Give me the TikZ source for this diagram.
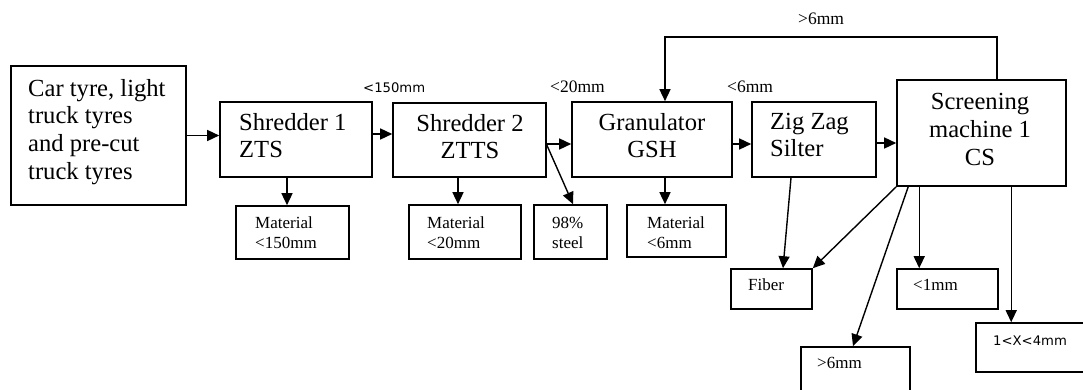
\documentclass[tikz,border=0pt]{standalone}
\usepackage{fontspec}
\setmainfont{Liberation Serif}
\newfontfamily\dvsans{DejaVu Sans}
\usetikzlibrary{arrows.meta}
\tikzset{
  x=1pt, y=-1pt,
  box/.style={draw, line width=1.6pt, inner sep=0pt},
  arr/.style={line width=1.4pt, -{Triangle[length=12pt,width=11pt]}},
  big/.style={font=\fontsize{24.6}{27.5}\selectfont, inner sep=0pt},
  small/.style={font=\fontsize{17}{20}\selectfont, inner sep=0pt, align=left, anchor=base west},
  lbl/.style={font=\fontsize{17.5}{20}\selectfont, inner sep=0pt, anchor=base west},
  slbl/.style={font=\dvsans\fontsize{13.2}{16}\selectfont, inner sep=0pt, anchor=base west},
}
\begin{document}
\begin{tikzpicture}
\useasboundingbox (0,0) rectangle (1083,390);
\clip (0,0) rectangle (1083,390);

% process boxes
\node[box, minimum width=175pt, minimum height=139pt] (in) at (98.5,135.5) {};
\node[box, minimum width=152pt, minimum height=75pt] (s1) at (296,139.5) {};
\node[box, minimum width=153pt, minimum height=74pt] (s2) at (469.5,140) {};
\node[box, minimum width=160pt, minimum height=75pt] (gr) at (652,139.5) {};
\node[box, minimum width=124pt, minimum height=75pt] (zz) at (814,139.5) {};
\node[box, minimum width=169pt, minimum height=106pt] (sc) at (981.5,133) {};

% output boxes
\node[box, minimum width=113pt, minimum height=53pt] (m150) at (292.5,232.5) {};
\node[box, minimum width=112pt, minimum height=54pt] (m20) at (465,232) {};
\node[box, minimum width=73pt, minimum height=54pt] (st) at (570.5,232) {};
\node[box, minimum width=99pt, minimum height=52pt] (m6) at (676.5,231) {};
\node[box, minimum width=81pt, minimum height=40pt] (fib) at (771.5,289) {};
\node[box, minimum width=101pt, minimum height=40pt] (l1) at (947.5,289) {};
\node[box, minimum width=109pt, minimum height=53pt] (g6) at (855.5,373.5) {};
\node[box, minimum width=119pt, minimum height=49pt] (x14) at (1035.5,347.5) {};

% box texts (multi-line nodes sit on the baseline of their last line)
\node[big, anchor=base west, align=left] (tin) at (28,179)
  {Car tyre, light\\truck tyres\\and pre-cut\\truck tyres};
\node[big, anchor=base west, align=left] (ts1) at (239,158) {Shredder 1\\ZTS};
\node[big, anchor=base, align=center] (ts2) at (470,159) {Shredder 2\\ZTTS};
\node[big, anchor=base, align=center] (tgr) at (652,158) {Granulator\\GSH};
\node[big, anchor=base west, align=left] (tzz) at (770,157) {Zig Zag\\Silter};
\node[big, anchor=base, align=center] (tsc) at (980,165) {Screening\\machine 1\\CS};

\node[small] (tm150) at (255,248) {Material\\<150mm};
\node[small] (tm20) at (427,248) {Material\\<20mm};
\node[small] (tst) at (552,248) {98\%\\steel};
\node[small] (tm6) at (647,248) {Material\\<6mm};
\node[small] (tfib) at (748,290) {Fiber};
\node[small] (tl1) at (913,290) {<1mm};
\node[small] (tg6) at (817,368) {>6mm};
\node[slbl] (tx14) at (993,345) {1<X<4mm};

% size labels above the line
\node[slbl] (l150) at (363,93) {<150mm};
\node[lbl] (l20) at (550,93) {<20mm};
\node[lbl] (l6) at (727,93) {<6mm};
\node[lbl] (lfb) at (798,25) {>6mm};

% main flow
\draw[arr] (in.east) -- (in.east -| s1.west);
\coordinate (a1) at ([yshift=5.5pt]s1.east);
\draw[arr] (a1) -- (a1 -| s2.west);
\coordinate (a2) at ([yshift=-4pt]s2.east);
\draw[arr] (a2) -- (a2 -| gr.west);
\coordinate (a3) at ([yshift=-4.5pt]gr.east);
\draw[arr] (a3) -- (a3 -| zz.west);
\coordinate (a4) at ([yshift=-3.5pt]zz.east);
\draw[arr] (a4) -- (a4 -| sc.west);

% discharges
\coordinate (d1) at ([xshift=-9pt]s1.south);
\draw[arr] (d1) -- (d1 |- m150.north);
\coordinate (d2) at ([xshift=-11.5pt]s2.south);
\draw[arr] (d2) -- (d2 |- m20.north);
\draw[arr] ([yshift=-5pt]s2.east) -- ([xshift=2.5pt]st.north);
\coordinate (d3) at ([xshift=13pt]gr.south);
\draw[arr] (d3) -- (d3 |- m6.north);
\draw[arr] ([xshift=-23pt]zz.south) -- ([xshift=11.5pt]fib.north);
\draw[arr] (sc.south west) -- (fib.north east);
\draw[arr] ([xshift=12pt]sc.south west) -- ([xshift=-2.5pt]g6.north);
\coordinate (d4) at ([xshift=23pt]sc.south west);
\draw[arr] (d4) -- (d4 |- l1.north);
\coordinate (d5) at ([xshift=115pt]sc.south west);
\draw[arr] (d5) -- (d5 |- x14.north);

% oversize return to the granulator
\draw[arr] ([xshift=15.5pt]sc.north) -- ++(0,-42) -| ([xshift=13pt]gr.north);
\end{tikzpicture}
\end{document}
